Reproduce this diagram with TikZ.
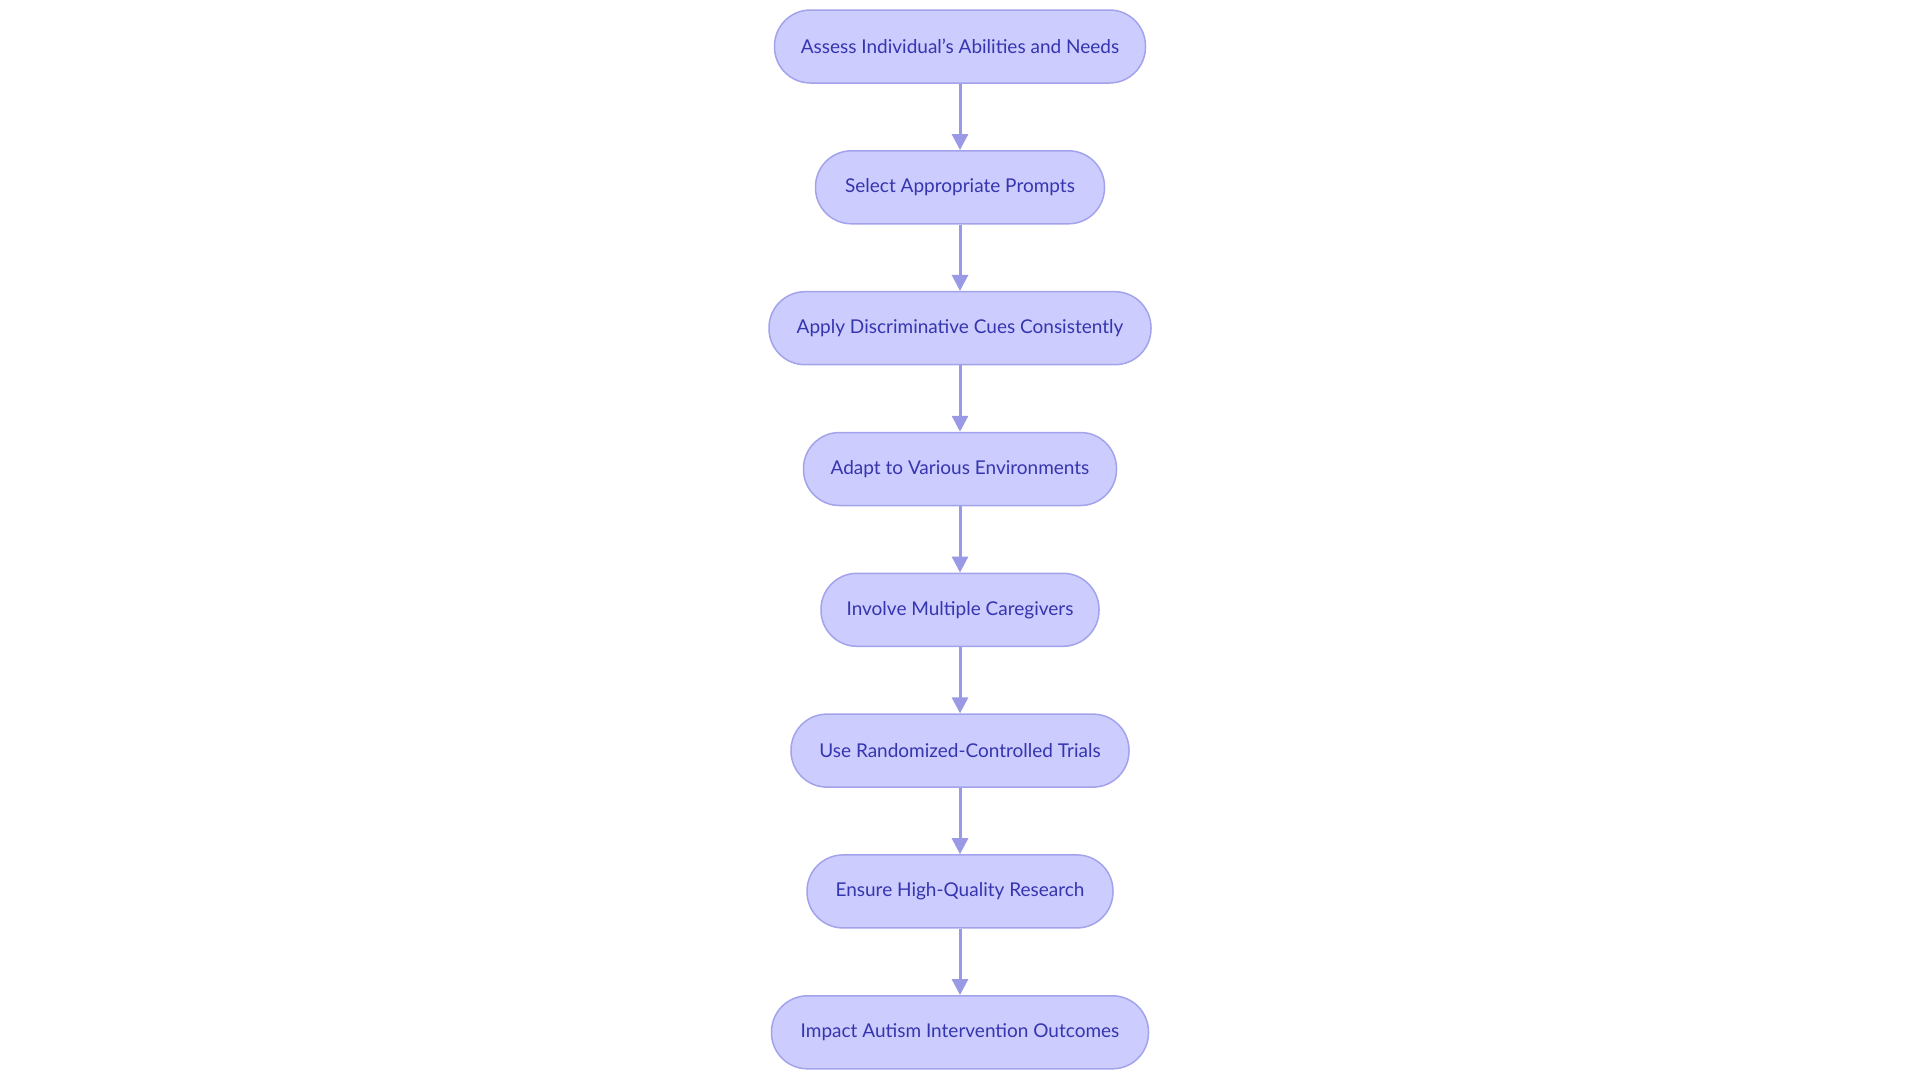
\documentclass[tikz,border=0pt]{standalone}
\usepackage{fontspec}
\setmainfont{Lato}
\usetikzlibrary{arrows.meta}
\definecolor{nfill}{HTML}{CCCCFF}
\definecolor{nborder}{HTML}{A3A3EC}
\definecolor{ntext}{HTML}{3535AE}
\definecolor{arr}{HTML}{9999E6}
\tikzset{stepbox/.style={draw=nborder,line width=1.5pt,fill=nfill,rounded corners=36pt,minimum height=73pt,text=ntext,font=\fontsize{19}{22}\selectfont,inner sep=0pt},
conn/.style={draw=arr,line width=3pt,-{Triangle[length=16pt,width=16pt]}}}
\begin{document}
\begin{tikzpicture}[x=1pt,y=-1pt]
\useasboundingbox (0,0) rectangle (1920,1080);
\node[stepbox,minimum width=371pt] (n1) at (960,46.5) {Assess Individual’s Abilities and Needs};
\node[stepbox,minimum width=289pt] (n2) at (960,187.3) {Select Appropriate Prompts};
\node[stepbox,minimum width=382pt] (n3) at (960,328.2) {Apply Discriminative Cues Consistently};
\node[stepbox,minimum width=313pt] (n4) at (960,469) {Adapt to Various Environments};
\node[stepbox,minimum width=278pt] (n5) at (960,609.8) {Involve Multiple Caregivers};
\node[stepbox,minimum width=338pt] (n6) at (960,750.6) {Use Randomized-Controlled Trials};
\node[stepbox,minimum width=306pt] (n7) at (960,891.4) {Ensure High-Quality Research};
\node[stepbox,minimum width=377pt] (n8) at (960,1032.3) {Impact Autism Intervention Outcomes};
\foreach \a/\b in {n1/n2,n2/n3,n3/n4,n4/n5,n5/n6,n6/n7,n7/n8}
  \draw[conn] (\a) -- (\b);
\end{tikzpicture}
\end{document}
